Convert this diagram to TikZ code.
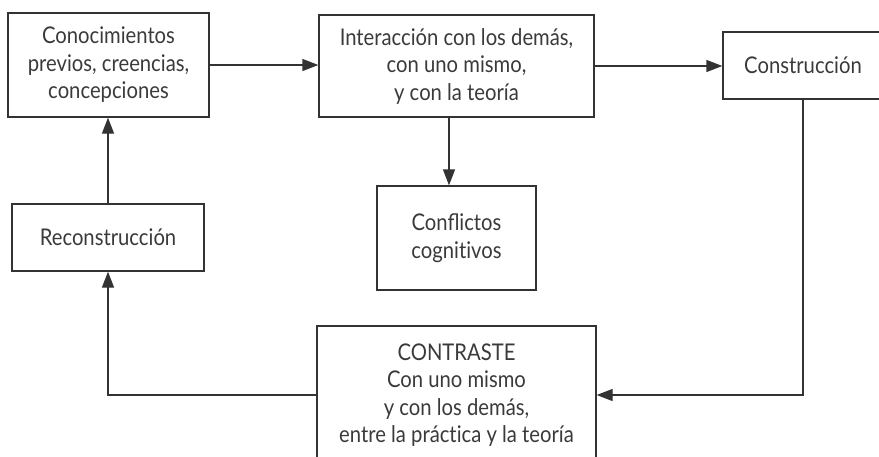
\documentclass[tikz,border=0pt]{standalone}
\usepackage{fontspec}
\setmainfont[FakeStretch=0.88]{Lato}
\usetikzlibrary{arrows.meta}
\definecolor{linec}{HTML}{333333}
\definecolor{textc}{HTML}{3A3A3A}
\newcommand{\nolig}{\kern0pt}
\begin{document}
\begin{tikzpicture}[x=1pt,y=-1pt,
  box/.style={draw=linec, line width=1.3pt, inner sep=0pt, text=textc, align=center,
    font=\fontsize{23}{27.5}\selectfont},
  conn/.style={draw=linec, line width=1.3pt, -{Triangle[length=16pt,width=12pt]}}]
\useasboundingbox (0,0) rectangle (879,456);
\clip (0,0) rectangle (879,456);
\node[box, minimum width=201pt, minimum height=104pt] (prev) at (108.5,65)
  {Conocimientos\\previos, creencias,\\concepciones};
\node[box, minimum width=275pt, minimum height=102pt] (inter) at (456.5,66)
  {Interacción con los demás,\\con uno mismo,\\y con la teoría};
\node[box, minimum width=160pt, minimum height=67pt] (constr) at (803,65.5)
  {Construcción};
\node[box, minimum width=192pt, minimum height=67pt] (recon) at (108,237.5)
  {Reconstrucción};
\node[box, minimum width=159pt, minimum height=104pt] (confl) at (456.5,238)
  {Conflictos\\cognit\nolig ivos};
\node[box, minimum width=279pt, minimum height=138pt] (contr) at (456.5,395)
  {CONTRASTE\\Con uno mismo\\y con los demás,\\entre la práct\nolig ica y la teoría};
\coordinate (interdown) at (449,117);
\draw[conn] (prev.east) -- (prev.east -| inter.west);
\draw[conn] (inter.east) -- (inter.east -| constr.west);
\draw[conn] (interdown) -- (interdown |- confl.north);
\draw[conn] (constr.south) |- (contr.east);
\draw[conn] (contr.west) -| (recon.south);
\draw[conn] (recon.north) -- (recon.north |- prev.south);
\end{tikzpicture}
\end{document}
